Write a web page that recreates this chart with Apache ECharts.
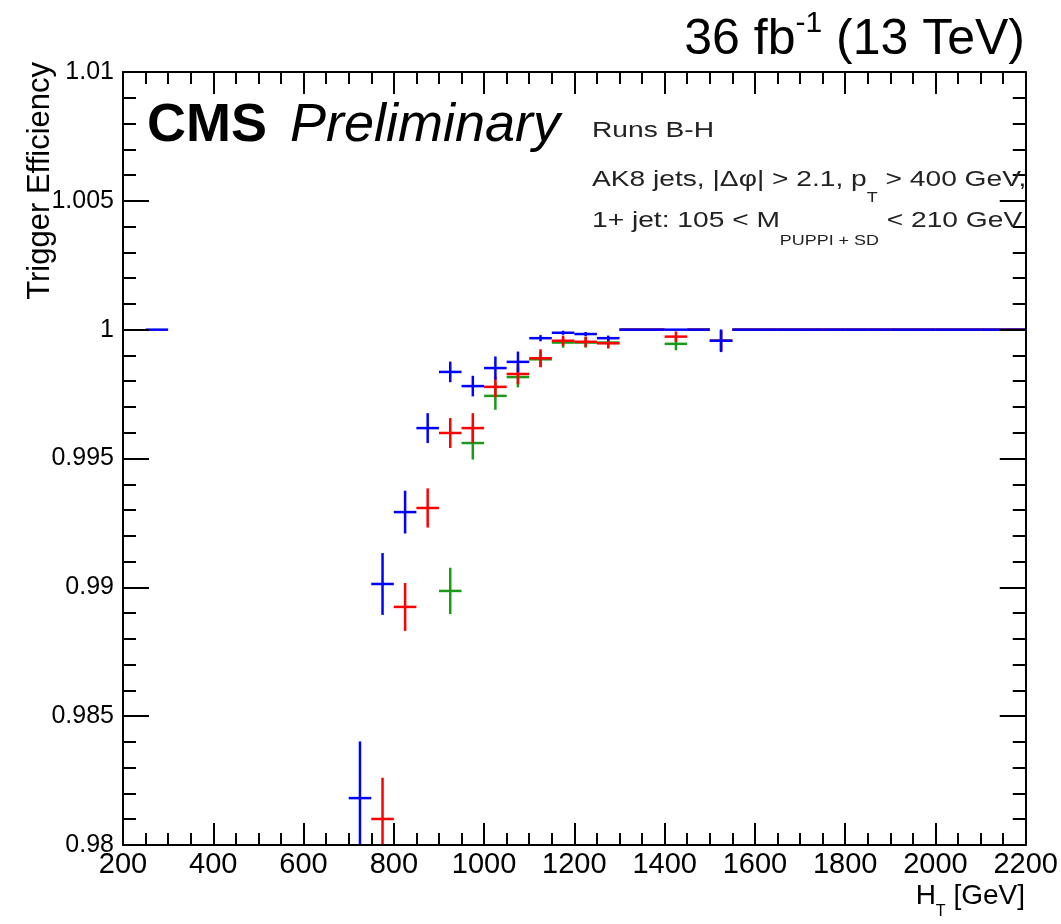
<!DOCTYPE html>
<html><head><meta charset="utf-8">
<script src="https://cdn.jsdelivr.net/npm/echarts@6/dist/echarts.min.js"></script>
<style>html,body{margin:0;padding:0;background:#fff}#c{width:1061px;height:924px}</style>
</head><body><div id="c"></div>
<script>
// ---- data ----
const htBinCenters = [275, 725, 775, 825, 875, 925, 975, 1025, 1075, 1125, 1175, 1225, 1275,
  1325, 1375, 1425, 1475, 1525, 1575, 1625, 1675, 1725, 1775, 1825, 1875, 1925, 1975,
  2025, 2075, 2125, 2175];
const blueEff = [1.0, 0.98182, 0.99013, 0.99292, 0.99618, 0.99836, 0.99781, 0.99851, 0.99875,
  0.99967, 0.99988, 0.99983, 0.99967, 1.0, 1.0, 1.0, 1.0, 0.99957, 1.0, 1.0, 1.0, 1.0, 1.0,
  1.0, 1.0, 1.0, 1.0, 1.0, 1.0, 1.0, 1.0];
const blueErr = [0, 0.0022, 0.0012, 0.00083, 0.00058, 0.0004, 0.0004, 0.00045, 0.0004,
  0.00012, 0.00008, 0.00008, 0.0001, 0, 0, 0, 0, 0.00044, 0, 0, 0, 0, 0,
  0, 0, 0, 0, 0, 0, 0, 0];
const redEff = [null, null, 0.98101, 0.98924, 0.99308, 0.99599, 0.99618, 0.99778, 0.99828,
  0.99889, 0.99957, 0.99953, 0.99947, 1.0, 1.0, 0.99973, 1.0, 0.99957, 1.0, 1.0, 1.0, 1.0, 1.0,
  1.0, 1.0, 1.0, 1.0, 1.0, 1.0, 1.0, 1.0];
const redErr = [null, null, 0.0016, 0.00093, 0.00076, 0.00058, 0.00058, 0.0004, 0.0004,
  0.00035, 0.0002, 0.0002, 0.0002, 0, 0, 0.0002, 0, 0.0004, 0, 0, 0, 0, 0,
  0, 0, 0, 0, 0, 0, 0, 0];
const greenEff = [null, null, null, null, null, 0.98986, 0.99560, 0.99743, 0.99816,
  0.99885, 0.9995, 0.9995, 0.9995, 1.0, 1.0, 0.99945, 1.0, 0.99957, 1.0, 1.0, 1.0, 1.0, 1.0,
  1.0, 1.0, 1.0, 1.0, 1.0, 1.0, 1.0, 1.0];
const greenErr = [null, null, null, null, null, 0.0009, 0.00064, 0.00054, 0.0004,
  0.0003, 0.0002, 0.0002, 0.0002, 0, 0, 0.00025, 0, 0.0004, 0, 0, 0, 0, 0,
  0, 0, 0, 0, 0, 0, 0, 0];
const binHalfWidth = 25;
const xTickLabels = ['200','400','600','800','1000','1200','1400','1600','1800','2000','2200'];
const yTickLabels = ['0.98','0.985','0.99','0.995','1','1.005','1.01'];
const xRange = [200, 2200];
const yRange = [0.98, 1.01];

// ---- chart ----
const FONT = '"Liberation Sans", Arial, Helvetica, sans-serif';
const chart = echarts.init(document.getElementById('c'), null, {renderer: 'canvas'});

function toData(eff, err) {
  const out = [];
  for (let i = 0; i < htBinCenters.length; i++) {
    if (eff[i] !== null && eff[i] !== undefined) out.push([htBinCenters[i], eff[i], err[i] || 0]);
  }
  return out;
}
function crossSeries(name, color, eff, err) {
  return {
    type: 'custom', name: name, clip: true, z: 3,
    encode: {x: 0, y: 1},
    data: toData(eff, err),
    renderItem: function (params, api) {
      const x = api.value(0), y = api.value(1), e = api.value(2);
      const pL = api.coord([x - binHalfWidth, y]);
      const pR = api.coord([x + binHalfWidth, y]);
      const style = {stroke: color, lineWidth: 2.5};
      const children = [{type: 'line', shape: {x1: pL[0], y1: pL[1], x2: pR[0], y2: pR[1]}, style: style}];
      if (e > 0) {
        const pT = api.coord([x, y + e]);
        const pB = api.coord([x, y - e]);
        children.push({type: 'line', shape: {x1: pT[0], y1: pT[1], x2: pB[0], y2: pB[1]}, style: style});
      }
      return {type: 'group', children: children};
    }
  };
}
function fmtY(v) {
  const s = String(parseFloat(Number(v).toFixed(4)));
  return yTickLabels.indexOf(s) >= 0 ? s : '';
}
function fmtX(v) {
  const s = String(Math.round(v));
  return xTickLabels.indexOf(s) >= 0 ? s : '';
}
const axisLineStyle = {show: true, lineStyle: {color: '#000', width: 2}};
function xAxisDef(pos, labels) {
  return {
    type: 'value', position: pos, min: xRange[0], max: xRange[1], interval: 200,
    axisLine: axisLineStyle,
    axisTick: {show: true, inside: true, length: 22, lineStyle: {color: '#000', width: 2}},
    minorTick: {show: true, splitNumber: 4, length: 12, lineStyle: {color: '#000', width: 2}},
    splitLine: {show: false}, minorSplitLine: {show: false},
    axisLabel: {show: labels, formatter: fmtX, color: '#000', fontFamily: FONT, fontSize: 29, margin: 5, hideOverlap: false},
    z: 5
  };
}
function yAxisDef(pos, labels) {
  return {
    type: 'value', position: pos, min: yRange[0], max: yRange[1], interval: 0.005,
    axisLine: axisLineStyle,
    axisTick: {show: true, inside: true, length: 26, lineStyle: {color: '#000', width: 2}},
    minorTick: {show: true, splitNumber: 5, length: 13, lineStyle: {color: '#000', width: 2}},
    splitLine: {show: false}, minorSplitLine: {show: false},
    axisLabel: {show: labels, formatter: fmtY, color: '#000', fontFamily: FONT, fontSize: 25, margin: 9, hideOverlap: false},
    z: 5
  };
}
const INFO = '#222';
const option = {
  animation: false,
  backgroundColor: '#fff',
  grid: {left: 123, right: 34, top: 72, bottom: 79, containLabel: false, show: false},
  xAxis: [xAxisDef('bottom', true), xAxisDef('top', false)],
  yAxis: [yAxisDef('left', true), yAxisDef('right', false)],
  series: [
    crossSeries('green', '#1a9a1a', greenEff, greenErr),
    crossSeries('red', '#ff0000', redEff, redErr),
    crossSeries('blue', '#0000ff', blueEff, blueErr)
  ],
  graphic: [
    {type: 'text', x: 1025, y: 9, z: 10, style: {
      text: '{a|36 fb}{s|-1}{a| (13 TeV)}', align: 'right', textAlign: 'right', verticalAlign: 'top', textVerticalAlign: 'top',
      fill: '#000', fontFamily: FONT,
      rich: {a: {fontSize: 50, lineHeight: 62, fontFamily: FONT, fill: '#000'},
             s: {fontSize: 30, lineHeight: 36, verticalAlign: 'top', fontFamily: FONT, fill: '#000'}}
    }},
    {type: 'text', x: 147, y: 153, z: 10, style: {
      text: 'CMS', fontSize: 54, fontWeight: 'bold', fontFamily: FONT, fill: '#000',
      align: 'left', textAlign: 'left', verticalAlign: 'bottom', textVerticalAlign: 'bottom'}},
    {type: 'text', x: 290, y: 153, z: 10, style: {
      text: 'Preliminary', fontSize: 54, fontStyle: 'italic', fontFamily: FONT, fill: '#000',
      align: 'left', textAlign: 'left', verticalAlign: 'bottom', textVerticalAlign: 'bottom'}},
    {type: 'text', x: 592, y: 120, z: 10, scaleX: 1.28, style: {
      text: 'Runs B-H', fontSize: 22, fontFamily: FONT, fill: INFO,
      align: 'left', textAlign: 'left', verticalAlign: 'top', textVerticalAlign: 'top'}},
    {type: 'text', x: 592, y: 155, z: 10, scaleX: 1.28, style: {
      text: '{n|AK8 jets, |Δφ| > 2.1, p}{b|T}{n| > 400 GeV,}', fontFamily: FONT, fill: INFO,
      align: 'left', textAlign: 'left', verticalAlign: 'top', textVerticalAlign: 'top',
      rich: {n: {fontSize: 22, lineHeight: 50, fontFamily: FONT, fill: INFO},
             b: {fontSize: 14, lineHeight: 12, verticalAlign: 'bottom', fontFamily: FONT, fill: INFO}}
    }},
    {type: 'text', x: 592, y: 194, z: 10, scaleX: 1.28, style: {
      text: '{n|1+ jet: 105 < M}{b|PUPPI + SD}{n| < 210 GeV}', fontFamily: FONT, fill: INFO,
      align: 'left', textAlign: 'left', verticalAlign: 'top', textVerticalAlign: 'top',
      rich: {n: {fontSize: 22, lineHeight: 54, fontFamily: FONT, fill: INFO},
             b: {fontSize: 14, lineHeight: 12, verticalAlign: 'bottom', fontFamily: FONT, fill: INFO}}
    }},
    {type: 'text', x: 1025, y: 878, z: 10, style: {
      text: '{n|H}{b|T}{n| [GeV]}', fontFamily: FONT, fill: '#000',
      align: 'right', textAlign: 'right', verticalAlign: 'top', textVerticalAlign: 'top',
      rich: {n: {fontSize: 28, lineHeight: 36, fontFamily: FONT, fill: '#000'},
             b: {fontSize: 16, lineHeight: 14, verticalAlign: 'bottom', fontFamily: FONT, fill: '#000', padding: [0, 0, -6, 0]}}
    }},
    {type: 'text', x: 40, y: 62, rotation: Math.PI / 2, z: 10, style: {
      text: 'Trigger Efficiency', fontSize: 31, fontFamily: FONT, fill: '#000',
      align: 'right', textAlign: 'right', verticalAlign: 'middle', textVerticalAlign: 'middle'}}
  ]
};
chart.setOption(option);
</script></body></html>
